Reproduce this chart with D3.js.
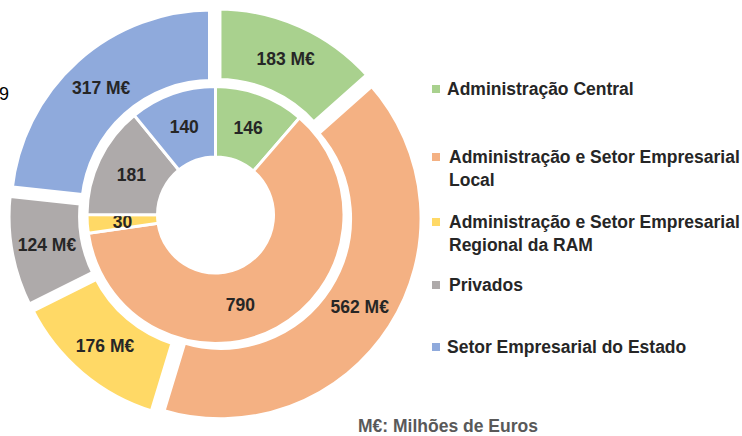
<!DOCTYPE html>
<html>
<head>
<meta charset="utf-8">
<script src="https://cdn.jsdelivr.net/npm/d3@7"></script>
<style>
  body { margin: 0; background: #fff; }
  svg { display: block; font-family: "Liberation Sans", Arial, sans-serif; }
</style>
</head>
<body>
<svg id="chart" width="742" height="436"></svg>
<script>
// categorias e valores (M€)
const categories = [
    "Administração Central",
    "Administração e Setor Empresarial Local",
    "Administração e Setor Empresarial Regional da RAM",
    "Privados",
    "Setor Empresarial do Estado"
];
const outerValues = [183, 562, 176, 124, 317];   // anel exterior
const innerValues = [146, 790, 30, 181, 140];    // anel interior
const colors = ["#a9d18e", "#f4b183", "#ffd966", "#aeaaaa", "#8faadc"];
const legendLines = [
    ["Administração Central"],
    ["Administração e Setor Empresarial", "Local"],
    ["Administração e Setor Empresarial", "Regional da RAM"],
    ["Privados"],
    ["Setor Empresarial do Estado"]
];
const note = "M€: Milhões de Euros";

const svg = d3.select("#chart");
const cx = 215.5, cy = 215;
const explode = 6;

const pie = d3.pie().sort(null).value(d => d);
const outerArc = d3.arc().innerRadius(128).outerRadius(202.5);
const innerArc = d3.arc().innerRadius(58).outerRadius(128.5);

const g = svg.append("g").attr("transform", `translate(${cx},${cy})`);

// anel exterior, com fatias destacadas
const outer = g.selectAll(".outer")
    .data(pie(outerValues))
    .enter()
    .append("g")
    .attr("class", "outer")
    .attr("transform", d => {
        const a = (d.startAngle + d.endAngle) / 2;
        return `translate(${explode * Math.sin(a)},${-explode * Math.cos(a)})`;
    });

outer.append("path")
    .attr("d", outerArc)
    .attr("fill", (d, i) => colors[i])
    .attr("stroke", "#fff")
    .attr("stroke-width", 7)
    .attr("stroke-linejoin", "miter");

// anel interior
const inner = g.selectAll(".inner")
    .data(pie(innerValues))
    .enter()
    .append("g")
    .attr("class", "inner");

inner.append("path")
    .attr("d", innerArc)
    .attr("fill", (d, i) => colors[i])
    .attr("stroke", "#fff")
    .attr("stroke-width", 3);

// rótulos
outer.append("text")
    .attr("transform", d => `translate(${outerArc.centroid(d)})`)
    .attr("text-anchor", "middle")
    .attr("dy", "0.35em")
    .attr("font-size", 17.5)
    .attr("font-weight", "bold")
    .attr("fill", "#262626")
    .text(d => d.data + " M€");

// o rótulo da fatia grande fica deslocado no original
const shift = a => a.endAngle - a.startAngle > Math.PI ? 0.23 : 0;
inner.append("text")
    .attr("transform", d => {
        const s = shift(d);
        return `translate(${innerArc.centroid({startAngle: d.startAngle + s, endAngle: d.endAngle + s})})`;
    })
    .attr("text-anchor", "middle")
    .attr("dy", "0.35em")
    .attr("font-size", 17.5)
    .attr("font-weight", "bold")
    .attr("fill", "#262626")
    .text(d => d.data);

// legenda
const legendY = [89, 157, 222, 285, 347];
const legend = svg.selectAll(".legend")
    .data(categories)
    .enter()
    .append("g")
    .attr("class", "legend")
    .attr("transform", (d, i) => `translate(432,${legendY[i]})`);

legend.append("rect")
    .attr("x", 0)
    .attr("y", -4)
    .attr("width", 8)
    .attr("height", 8)
    .attr("fill", (d, i) => colors[i]);

legend.append("text")
    .attr("x", (d, i) => (i === 0 || i === 4) ? 15 : 17)
    .attr("font-size", 17.5)
    .attr("font-weight", "bold")
    .attr("fill", "#262626")
    .selectAll("tspan")
    .data((d, i) => legendLines[i])
    .enter()
    .append("tspan")
    .attr("x", function () { return d3.select(this.parentNode).attr("x"); })
    .attr("dy", (d, j) => j === 0 ? "0.35em" : "1.3em")
    .text(d => d);

// nota
svg.append("text")
    .attr("x", 358)
    .attr("y", 426)
    .attr("dy", "0.35em")
    .attr("font-size", 17.5)
    .attr("font-weight", "bold")
    .attr("fill", "#595959")
    .text(note);

// resto de um título cortado à esquerda
svg.append("text")
    .attr("x", -1)
    .attr("y", 94)
    .attr("dy", "0.35em")
    .attr("font-size", 18)
    .attr("fill", "#000")
    .text("9");
</script>
</body>
</html>
